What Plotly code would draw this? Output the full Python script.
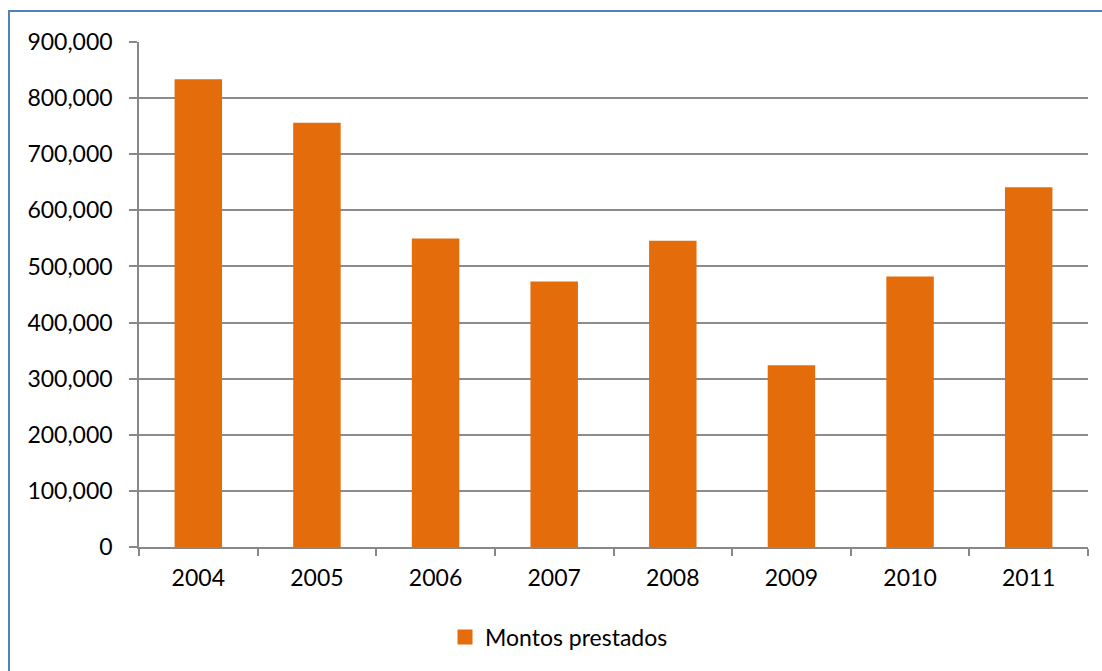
import plotly.graph_objects as go

# Annual loaned amounts
years = ["2004", "2005", "2006", "2007", "2008", "2009", "2010", "2011"]
montos = [833500, 756000, 550000, 473000, 546000, 324000, 482000, 641000]
y_ticks = [0, 100000, 200000, 300000, 400000, 500000, 600000, 700000, 800000, 900000]
y_labels = ["0", "100,000", "200,000", "300,000", "400,000", "500,000",
            "600,000", "700,000", "800,000", "900,000"]
series_name = "Montos prestados"
bar_color = "#E46C0A"

W, H = 1102, 671
L, R, T, B = 139, 14, 42, 124
pw, ph = W - L - R, H - T - B

fig = go.Figure()
fig.add_trace(go.Bar(
    x=years, y=montos, name=series_name,
    marker=dict(color=bar_color, line=dict(width=0)),
    showlegend=False,
))
# legend entry with a larger square swatch
fig.add_trace(go.Scatter(
    x=[None], y=[None], mode="markers", name=series_name,
    marker=dict(symbol="square", size=15, color=bar_color),
    showlegend=True,
))

font_family = "Lato, 'Open Sans', sans-serif"
fs = 23

fig.update_layout(
    width=W, height=H,
    margin=dict(l=L, r=R, t=T, b=B, pad=0),
    paper_bgcolor="white", plot_bgcolor="white",
    bargap=0.6,
    font=dict(family=font_family, size=fs, color="#000000"),
    showlegend=True,
    legend=dict(
        orientation="h", x=(559 - L) / pw, xanchor="center",
        y=-(637 - (T + ph)) / ph, yanchor="middle",
        font=dict(size=fs), itemwidth=30,
    ),
    xaxis=dict(
        showgrid=False, showline=True, linecolor="#888888", linewidth=1.5,
        ticks="outside", tickson="boundaries", ticklen=7, tickcolor="#888888",
        tickwidth=1.5, tickfont=dict(size=fs), ticklabelstandoff=10,
    ),
    yaxis=dict(
        range=[0, 900000], tickvals=y_ticks, ticktext=y_labels,
        showgrid=True, gridcolor="#8c8c8c", gridwidth=1.5,
        showline=True, linecolor="#888888", linewidth=1.5,
        ticks="outside", ticklen=8, tickcolor="#888888", tickwidth=1.5,
        tickfont=dict(size=fs), zeroline=False, ticklabelstandoff=12,
    ),
    shapes=[dict(
        type="rect", xref="paper", yref="paper",
        x0=(9 - L) / pw, x1=(W + 20 - L) / pw,
        y0=-(H + 20 - (T + ph)) / ph, y1=((T + ph) - 11) / ph,
        line=dict(color="#4F81BD", width=2), fillcolor="rgba(0,0,0,0)",
        layer="below",
    )],
)

fig.write_html("out.html")
